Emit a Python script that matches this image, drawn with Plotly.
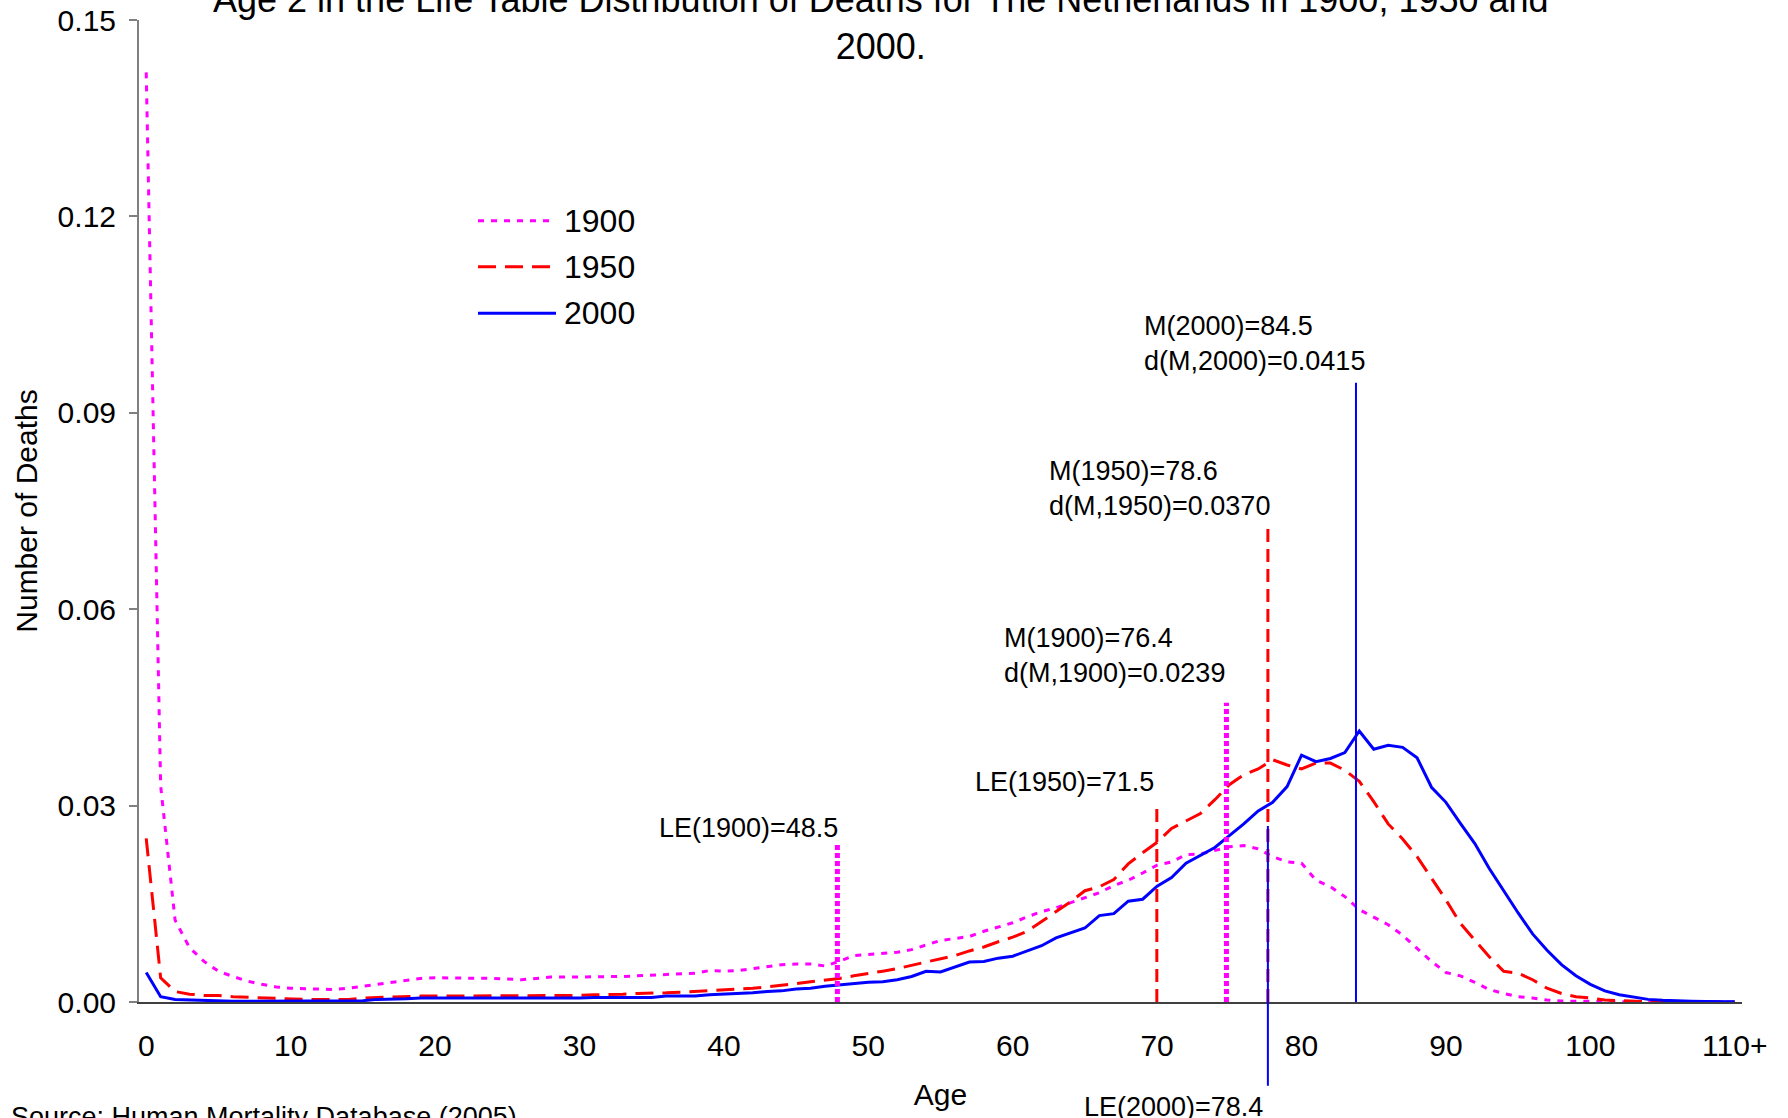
import plotly.graph_objects as go

# ---------------- data ----------------
ages = list(range(111))
age_tick_ages = list(range(0, 111, 10))
age_tick_labels = ["0", "10", "20", "30", "40", "50", "60", "70", "80", "90", "100", "110+"]
y_ticks = [0.0, 0.03, 0.06, 0.09, 0.12, 0.15]

series_names = ["1900", "1950", "2000"]

d1900 = [
    0.142, 0.033, 0.0125, 0.0083, 0.0062, 0.0047, 0.0039, 0.0032, 0.0027, 0.0023,
    0.0021, 0.0020, 0.0019, 0.0019, 0.0021, 0.0024, 0.0027, 0.0030, 0.0032, 0.0036,
    0.0037, 0.0037, 0.0037, 0.0037, 0.0036, 0.0035, 0.0034, 0.0036, 0.0038, 0.0038,
    0.0038, 0.0038, 0.0038, 0.0039, 0.0040, 0.0041, 0.0042, 0.0043, 0.0044, 0.0048,
    0.0047, 0.0048, 0.0051, 0.0053, 0.0057, 0.0058, 0.0058, 0.0055, 0.0062, 0.0071,
    0.0073, 0.0075, 0.0076, 0.0080, 0.0087, 0.0094, 0.0097, 0.0100, 0.0108, 0.0114,
    0.0121, 0.0130, 0.0138, 0.0144, 0.0152, 0.0159, 0.0167, 0.0178, 0.0186, 0.0197,
    0.0209, 0.0214, 0.0225, 0.0226, 0.0231, 0.0237, 0.0239, 0.0234, 0.0222, 0.0214,
    0.0212, 0.0186, 0.0176, 0.0161, 0.0141, 0.0130, 0.0118, 0.0102, 0.0082, 0.0062,
    0.0045, 0.0040, 0.0030, 0.0019, 0.0013, 0.0008, 0.0006, 0.0003, 0.00015, 0.0001,
    0.00005, 0.00003, 0.00002, 0.00001, 0.0, 0.0, 0.0, 0.0, 0.0, 0.0, 0.0,
]

d1950 = [
    0.0250, 0.0037, 0.0016, 0.0012, 0.0010, 0.0010, 0.0008, 0.0007, 0.0006, 0.0005,
    0.0004, 0.0004, 0.0004, 0.0004, 0.0004, 0.0006, 0.0007, 0.0008, 0.0008, 0.0009,
    0.0009, 0.0009, 0.0009, 0.0009, 0.0009, 0.0009, 0.0009, 0.0009, 0.0009, 0.0010,
    0.0010, 0.0011, 0.0011, 0.0012, 0.0013, 0.0013, 0.0014, 0.0015, 0.0016, 0.0017,
    0.0018, 0.0019, 0.0021, 0.0023, 0.0025, 0.0028, 0.0031, 0.0033, 0.0036, 0.0040,
    0.0043, 0.0047, 0.0051, 0.0056, 0.0062, 0.0066, 0.0071, 0.0078, 0.0084, 0.0092,
    0.0099, 0.0108, 0.0123, 0.0137, 0.0153, 0.0170, 0.0176, 0.0187, 0.0211, 0.0228,
    0.0244, 0.0265, 0.0276, 0.0288, 0.0309, 0.0332, 0.0347, 0.0356, 0.0370, 0.0362,
    0.0356, 0.0365, 0.0365, 0.0354, 0.0337, 0.0306, 0.0272, 0.0249, 0.0222, 0.0189,
    0.0156, 0.0120, 0.0095, 0.0069, 0.0047, 0.0044, 0.0034, 0.0021, 0.0013, 0.0008,
    0.0006, 0.0003, 0.0002, 0.0001, 0.00005, 0.00003, 0.00002, 0.00001, 0.0, 0.0, 0.0,
]

d2000 = [
    0.0045, 0.0008, 0.0004, 0.0003, 0.0002, 0.0002, 0.0001, 0.0001, 0.0001, 0.0001,
    0.0001, 0.0001, 0.0001, 0.0001, 0.0001, 0.0002, 0.0004, 0.0004, 0.0005, 0.0006,
    0.0006, 0.0006, 0.0005, 0.0005, 0.0005, 0.0005, 0.0005, 0.0006, 0.0006, 0.0006,
    0.0006, 0.0007, 0.0007, 0.0007, 0.0007, 0.0007, 0.0009, 0.0009, 0.0009, 0.0011,
    0.0012, 0.0012, 0.0014, 0.0016, 0.0017, 0.0020, 0.0021, 0.0024, 0.0026, 0.0029,
    0.0030, 0.0031, 0.0034, 0.0039, 0.0047, 0.0046, 0.0054, 0.0061, 0.0062, 0.0067,
    0.0070, 0.0078, 0.0086, 0.0098, 0.0106, 0.0113, 0.0132, 0.0135, 0.0154, 0.0157,
    0.0177, 0.0190, 0.0212, 0.0224, 0.0236, 0.0254, 0.0272, 0.0292, 0.0305, 0.0329,
    0.0377, 0.0367, 0.0372, 0.0381, 0.0414, 0.0386, 0.0392, 0.0389, 0.0373, 0.0328,
    0.0305, 0.0273, 0.0242, 0.0204, 0.0169, 0.0136, 0.0104, 0.0079, 0.0057, 0.0040,
    0.0027, 0.0017, 0.0011, 0.0007, 0.0004, 0.00025, 0.00015, 0.0001, 0.00007, 0.00005, 0.00005,
]

# reference lines (life expectancy LE and modal age M)
marker_labels = [
    "LE(1900)=48.5",
    "LE(1950)=71.5",
    "M(1900)=76.4<br>d(M,1900)=0.0239",
    "M(1950)=78.6<br>d(M,1950)=0.0370",
    "LE(2000)=78.4",
    "M(2000)=84.5<br>d(M,2000)=0.0415",
]
marker_year = ["1900", "1950", "1900", "1950", "2000", "2000"]
marker_age = [47.86, 69.98, 74.8, 77.67, 77.67, 83.77]
marker_top = [0.0240, 0.0303, 0.0457, 0.0726, 0.0269, 0.0946]
marker_bottom = [0.0, 0.0, 0.0, 0.0, -0.0128, 0.0]

title_text = ("Age 2 in the Life Table Distribution of Deaths for The Netherlands in 1900, 1950 and"
              "<br>2000.")
source_text = "Source: Human Mortality Database (2005)"

# ---------------- styling ----------------
FONT = "Liberation Sans, Arial, Helvetica, sans-serif"
series_style = {
    "1900": dict(color="#FF00FF", width=3, dash="6px,7px"),
    "1950": dict(color="#FF0000", width=3, dash="18px,9px"),
    "2000": dict(color="#0000FF", width=3, dash="solid"),
}
marker_style = {
    "1900": dict(color="#FF00FF", width=5, dash="5px,3px"),
    "1950": dict(color="#FF0000", width=3, dash="13px,7px"),
    "2000": dict(color="#0000FF", width=2, dash="solid"),
}
label_place = [
    dict(xanchor="right", yanchor="bottom", xshift=3, yshift=0, align="right"),
    dict(xanchor="right", yanchor="bottom", xshift=-1, yshift=5, align="right"),
    dict(xanchor="left", yanchor="bottom", xshift=-224, yshift=13, align="left"),
    dict(xanchor="left", yanchor="bottom", xshift=-221, yshift=4, align="left"),
    dict(xanchor="right", yanchor="top", xshift=-3, yshift=-4, align="right"),
    dict(xanchor="left", yanchor="bottom", xshift=-214, yshift=5, align="left"),
]

W, H = 1788, 1118
ML, MR, MT, MB = 139, 46, 20, 10
plot_h = H - MT - MB
axis_px = 1002  # pixel row of the x axis
d0 = (H - MB - axis_px) / plot_h
y_min, y_max = 0.0, 0.15
y3_min = y_min - (y_max - y_min) * d0 / (1 - d0)

fig = go.Figure()

series_values = {"1900": d1900, "1950": d1950, "2000": d2000}
for name in series_names:
    fig.add_trace(go.Scatter(
        x=ages, y=series_values[name], mode="lines", name=name,
        line=series_style[name], showlegend=False, xaxis="x", yaxis="y",
    ))

for i, lab in enumerate(marker_labels):
    fig.add_trace(go.Scatter(
        x=[marker_age[i], marker_age[i]], y=[marker_bottom[i], marker_top[i]],
        mode="lines", line=marker_style[marker_year[i]], showlegend=False,
        xaxis="x", yaxis="y3", hoverinfo="skip",
    ))

annotations = []
for i, lab in enumerate(marker_labels):
    p = label_place[i]
    yv = marker_bottom[i] if p["yanchor"] == "top" else marker_top[i]
    annotations.append(dict(
        text=lab, x=marker_age[i], y=yv, xref="x", yref="y3",
        xanchor=p["xanchor"], yanchor=p["yanchor"], xshift=p["xshift"], yshift=p["yshift"],
        align=p["align"], showarrow=False, font=dict(family=FONT, size=27, color="black"),
    ))

pw = W - ML - MR
annotations.append(dict(
    text=title_text, xref="paper", yref="paper", x=(881 - ML) / pw,
    y=(H - MB - 69) / plot_h, xanchor="center", yanchor="bottom", showarrow=False,
    font=dict(family=FONT, size=36, color="black"), align="center",
))
annotations.append(dict(
    text=source_text, xref="paper", yref="paper", x=(9 - ML) / pw,
    y=(H - MB - 1100) / plot_h, xanchor="left", yanchor="top", showarrow=False,
    font=dict(family=FONT, size=27, color="black"),
))

shapes = []
leg_rows_px = [220.7, 266.7, 313.3]
for name, rp in zip(series_names, leg_rows_px):
    yp = (H - MB - rp) / plot_h
    st = series_style[name]
    shapes.append(dict(type="line", xref="paper", yref="paper",
                       x0=(478 - ML) / pw, x1=(556 - ML) / pw, y0=yp, y1=yp,
                       line=dict(color=st["color"], width=st["width"], dash=st["dash"])))
    annotations.append(dict(text=name, xref="paper", yref="paper", x=(562 - ML) / pw, y=yp,
                            xanchor="left", yanchor="middle", showarrow=False,
                            font=dict(family=FONT, size=32, color="black")))

fig.update_layout(
    width=W, height=H,
    margin=dict(l=ML, r=MR, t=MT, b=MB, pad=0, autoexpand=False),
    paper_bgcolor="white", plot_bgcolor="rgba(0,0,0,0)",
    font=dict(family=FONT, size=26, color="black"),
    showlegend=False,
    xaxis=dict(
        domain=[0, 1], range=[-0.5, 110.5], anchor="y", automargin=False,
        tickmode="array", tickvals=age_tick_ages, ticktext=age_tick_labels,
        ticks="", showline=True, linecolor="#404040", linewidth=1.5,
        showgrid=False, zeroline=False, tickfont=dict(size=30),
        ticklabelstandoff=16,
        title=dict(text="Age", font=dict(size=30), standoff=23),
    ),
    xaxis2=dict(
        overlaying="x", anchor="y", side="bottom", range=[-0.5, 110.5], automargin=False,
        tickmode="array", tickvals=[a - 0.5 for a in age_tick_ages],
        ticks="outside", ticklen=9, tickwidth=1.5, tickcolor="#404040",
        showticklabels=False, showgrid=False, zeroline=False, showline=False,
    ),
    yaxis=dict(
        domain=[d0, 1], range=[y_min, y_max], anchor="x", automargin=False,
        tickmode="array", tickvals=y_ticks, tickformat=".2f",
        ticks="outside", ticklen=8, tickwidth=1.5, tickcolor="#808080",
        showline=True, linecolor="#808080", linewidth=2,
        showgrid=False, zeroline=False, tickfont=dict(size=30),
        ticklabelstandoff=7,
        title=dict(text="Number of Deaths", font=dict(size=30), standoff=11),
    ),
    yaxis3=dict(domain=[0, 1], range=[y3_min, y_max], anchor="x", visible=False,
                automargin=False, showgrid=False, zeroline=False),
    annotations=annotations,
    shapes=shapes,
)

fig.write_html("out.html", config={"displayModeBar": False},
               post_script="document.body.style.margin='0';document.body.style.overflow='hidden';")
